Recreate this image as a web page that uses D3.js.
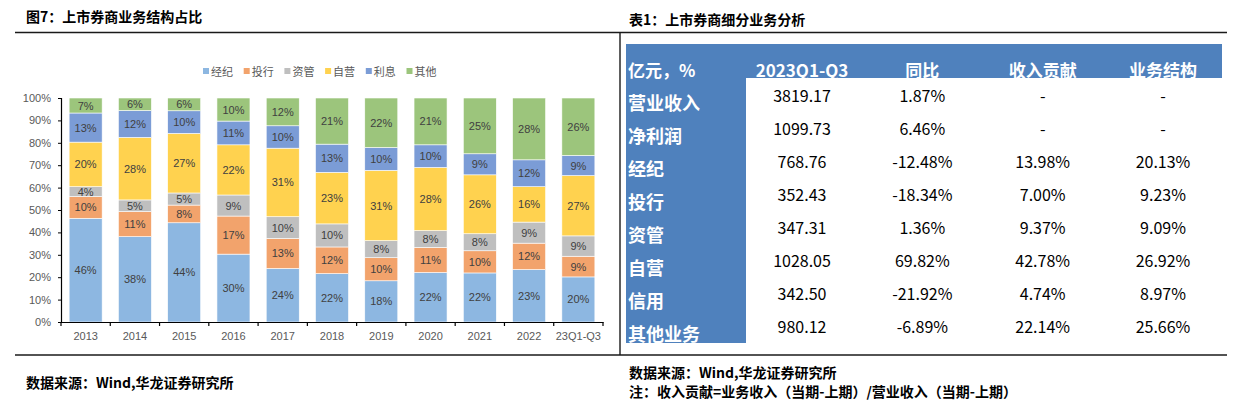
<!doctype html>
<html>
<head>
<meta charset="utf-8">
<script src="https://d3js.org/d3.v7.min.js"></script>
<style>
  body { margin: 0; background: #fff; }
</style>
</head>
<body>
<svg width="1237" height="406" id="fig"></svg>
<script>
// chart data (share of revenue, %)
var years = ["2013", "2014", "2015", "2016", "2017", "2018", "2019", "2020", "2021", "2022", "23Q1-Q3"];
var seriesNames = ["经纪", "投行", "资管", "自营", "利息", "其他"];
var brokerage = [46.3, 38.1, 44.3, 30.3, 23.9, 21.6, 18.4, 22.1, 21.9, 23.4, 20.13];
var invBank   = [9.7, 11.2, 7.9, 17.0, 13.4, 11.9, 10.3, 11.2, 9.9, 11.8, 9.23];
var assetMgmt = [4.4, 5.2, 5.4, 9.4, 9.7, 10.3, 7.6, 7.5, 7.6, 9.4, 9.09];
var propTrade = [19.9, 27.9, 26.6, 22.4, 30.6, 23.0, 31.4, 28.2, 26.3, 15.8, 26.92];
var interest  = [13.0, 12.0, 10.1, 10.6, 10.0, 12.6, 10.2, 10.1, 9.4, 12.0, 8.97];
var others    = [6.7, 5.6, 5.7, 10.3, 12.4, 20.6, 22.1, 20.9, 24.9, 27.6, 25.66];
var yTicks = [0, 10, 20, 30, 40, 50, 60, 70, 80, 90, 100];

// table data
var tableHeader = ["亿元，%", "2023Q1-Q3", "同比", "收入贡献", "业务结构"];
var tableRows = ["营业收入", "净利润", "经纪", "投行", "资管", "自营", "信用", "其他业务"];
var q3Values = ["3819.17", "1099.73", "768.76", "352.43", "347.31", "1028.05", "342.50", "980.12"];
var yoyValues = ["1.87%", "6.46%", "-12.48%", "-18.34%", "1.36%", "69.82%", "-21.92%", "-6.89%"];
var contribValues = ["-", "-", "13.98%", "7.00%", "9.37%", "42.78%", "4.74%", "22.14%"];
var structValues = ["-", "-", "20.13%", "9.23%", "9.09%", "26.92%", "8.97%", "25.66%"];

var colors = ["#8DB7E1", "#F2A36C", "#BFBFBF", "#FFD24F", "#7B9CD6", "#9CC57C"];
var cjk = "'Noto Sans CJK SC', sans-serif";
var latin = "'Liberation Sans', Arial, sans-serif";

var svg = d3.select("#fig");

// ---- frames and titles
var frame = svg.append("g").attr("stroke", "#1a1a1a").attr("stroke-width", 1.4);
frame.append("line").attr("x1", 15).attr("x2", 1227).attr("y1", 32.5).attr("y2", 32.5);
frame.append("line").attr("x1", 15).attr("x2", 1227).attr("y1", 355).attr("y2", 355);
frame.append("line").attr("x1", 620).attr("x2", 620).attr("y1", 32.5).attr("y2", 355);

svg.append("text").attr("x", 26).attr("y", 22)
  .style("font-family", cjk).style("font-weight", 700).style("font-size", "14px")
  .text("图7：上市券商业务结构占比");
svg.append("text").attr("x", 629).attr("y", 25)
  .style("font-family", cjk).style("font-weight", 700).style("font-size", "14px")
  .text("表1：上市券商细分业务分析");

svg.append("text").attr("x", 26).attr("y", 388)
  .style("font-family", cjk).style("font-weight", 700).style("font-size", "14px")
  .text("数据来源：Wind,华龙证券研究所");
svg.append("text").attr("x", 629).attr("y", 378)
  .style("font-family", cjk).style("font-weight", 700).style("font-size", "14px")
  .text("数据来源：Wind,华龙证券研究所");
svg.append("text").attr("x", 629).attr("y", 397)
  .style("font-family", cjk).style("font-weight", 700).style("font-size", "14px")
  .text("注：收入贡献=业务收入（当期-上期）/营业收入（当期-上期）");

// ---- stacked bar chart
var x = d3.scaleBand().domain(years).range([61, 603]).paddingInner(0.33).paddingOuter(0.165);
var y = d3.scaleLinear().domain([0, 100]).range([322, 98]);

var rows = years.map(function (yr, i) {
  return { year: yr, "经纪": brokerage[i], "投行": invBank[i], "资管": assetMgmt[i],
           "自营": propTrade[i], "利息": interest[i], "其他": others[i] };
});
var stacked = d3.stack().keys(seriesNames)(rows);

var layers = svg.append("g").selectAll("g")
  .data(stacked).enter().append("g")
  .attr("fill", function (d, i) { return colors[i]; });

layers.selectAll("rect")
  .data(function (d) { return d; })
  .enter().append("rect")
  .attr("x", function (d) { return x(d.data.year); })
  .attr("y", function (d) { return y(d[1]); })
  .attr("width", x.bandwidth())
  .attr("height", function (d) { return y(d[0]) - y(d[1]); })
  .attr("stroke", "#fff").attr("stroke-width", 0.6);

layers.selectAll("text")
  .data(function (d) { return d; })
  .enter().append("text")
  .attr("x", function (d) { return x(d.data.year) + x.bandwidth() / 2; })
  .attr("y", function (d) { return (y(d[0]) + y(d[1])) / 2; })
  .attr("text-anchor", "middle").attr("dominant-baseline", "central")
  .attr("fill", "#404040")
  .style("font-family", latin).style("font-size", "11px")
  .text(function (d) { return Math.round(d[1] - d[0]) + "%"; });

// axes
var yAxis = svg.append("g").attr("transform", "translate(61,0)")
  .call(d3.axisLeft(y).tickValues(yTicks).tickSize(3).tickFormat(function (d) { return d + "%"; }));
var xAxis = svg.append("g").attr("transform", "translate(0,322)")
  .call(d3.axisBottom(x).tickSize(0).tickPadding(10));
[yAxis, xAxis].forEach(function (a) {
  a.attr("font-family", latin).attr("font-size", 11);
  a.select(".domain").attr("stroke", "#000").attr("stroke-width", 1.2);
  a.selectAll("text").attr("fill", "#595959");
});
yAxis.selectAll(".tick line").attr("stroke", "#000");
yAxis.selectAll(".tick text").attr("x", -10);
// category boundary ticks on x axis
var bounds = years.map(function (yr) { return x(yr) - x.step() * x.paddingInner() / 2; });
bounds.push(603);
svg.append("g").selectAll("line").data(bounds).enter().append("line")
  .attr("x1", function (d) { return d; }).attr("x2", function (d) { return d; })
  .attr("y1", 322).attr("y2", 326).attr("stroke", "#000").attr("stroke-width", 1.2);

// legend
var legend = svg.append("g").selectAll("g")
  .data(seriesNames).enter().append("g")
  .attr("transform", function (d, i) { return "translate(" + (203 + i * 40.7) + ",71)"; });
legend.append("rect").attr("x", 0).attr("y", -3).attr("width", 6).attr("height", 6)
  .attr("fill", function (d, i) { return colors[i]; });
legend.append("text").attr("x", 8).attr("y", 0).attr("dominant-baseline", "central")
  .attr("fill", "#595959").style("font-family", cjk).style("font-size", "11px")
  .text(function (d) { return d; });

// ---- table
var blue = "#4F81BD";
svg.append("rect").attr("x", 626).attr("y", 44).attr("width", 596).attr("height", 34).attr("fill", blue);
svg.append("rect").attr("x", 626).attr("y", 44).attr("width", 120).attr("height", 299).attr("fill", blue);

var colX = d3.scalePoint().domain(tableHeader.slice(1)).range([802, 1163]);
var rowY = d3.scalePoint().domain(tableRows).range([101.7, 332.7]);

svg.append("text").attr("x", 628).attr("y", 69).attr("dominant-baseline", "central")
  .attr("fill", "#fff").style("font-family", cjk).style("font-weight", 700).style("font-size", "17px")
  .text(tableHeader[0]);
svg.append("g").selectAll("text").data(tableHeader.slice(1)).enter().append("text")
  .attr("x", function (d) { return colX(d); }).attr("y", 69)
  .attr("text-anchor", "middle").attr("dominant-baseline", "central")
  .attr("fill", "#fff").style("font-family", cjk).style("font-weight", 700).style("font-size", "17px")
  .text(function (d) { return d; });

svg.append("g").selectAll("text").data(tableRows).enter().append("text")
  .attr("x", 628).attr("y", function (d) { return rowY(d); })
  .attr("dominant-baseline", "central")
  .attr("fill", "#fff").style("font-family", cjk).style("font-weight", 700).style("font-size", "18px")
  .text(function (d) { return d; });

var columns = [q3Values, yoyValues, contribValues, structValues];
columns.forEach(function (vals, c) {
  svg.append("g").selectAll("text").data(vals).enter().append("text")
    .attr("x", colX(tableHeader[c + 1]))
    .attr("y", function (d, i) { return rowY(tableRows[i]) - 6.7; })
    .attr("text-anchor", "middle").attr("dominant-baseline", "central")
    .attr("fill", "#000").style("font-family", cjk).style("font-size", "16px")
    .text(function (d) { return d; });
});
</script>
</body>
</html>
